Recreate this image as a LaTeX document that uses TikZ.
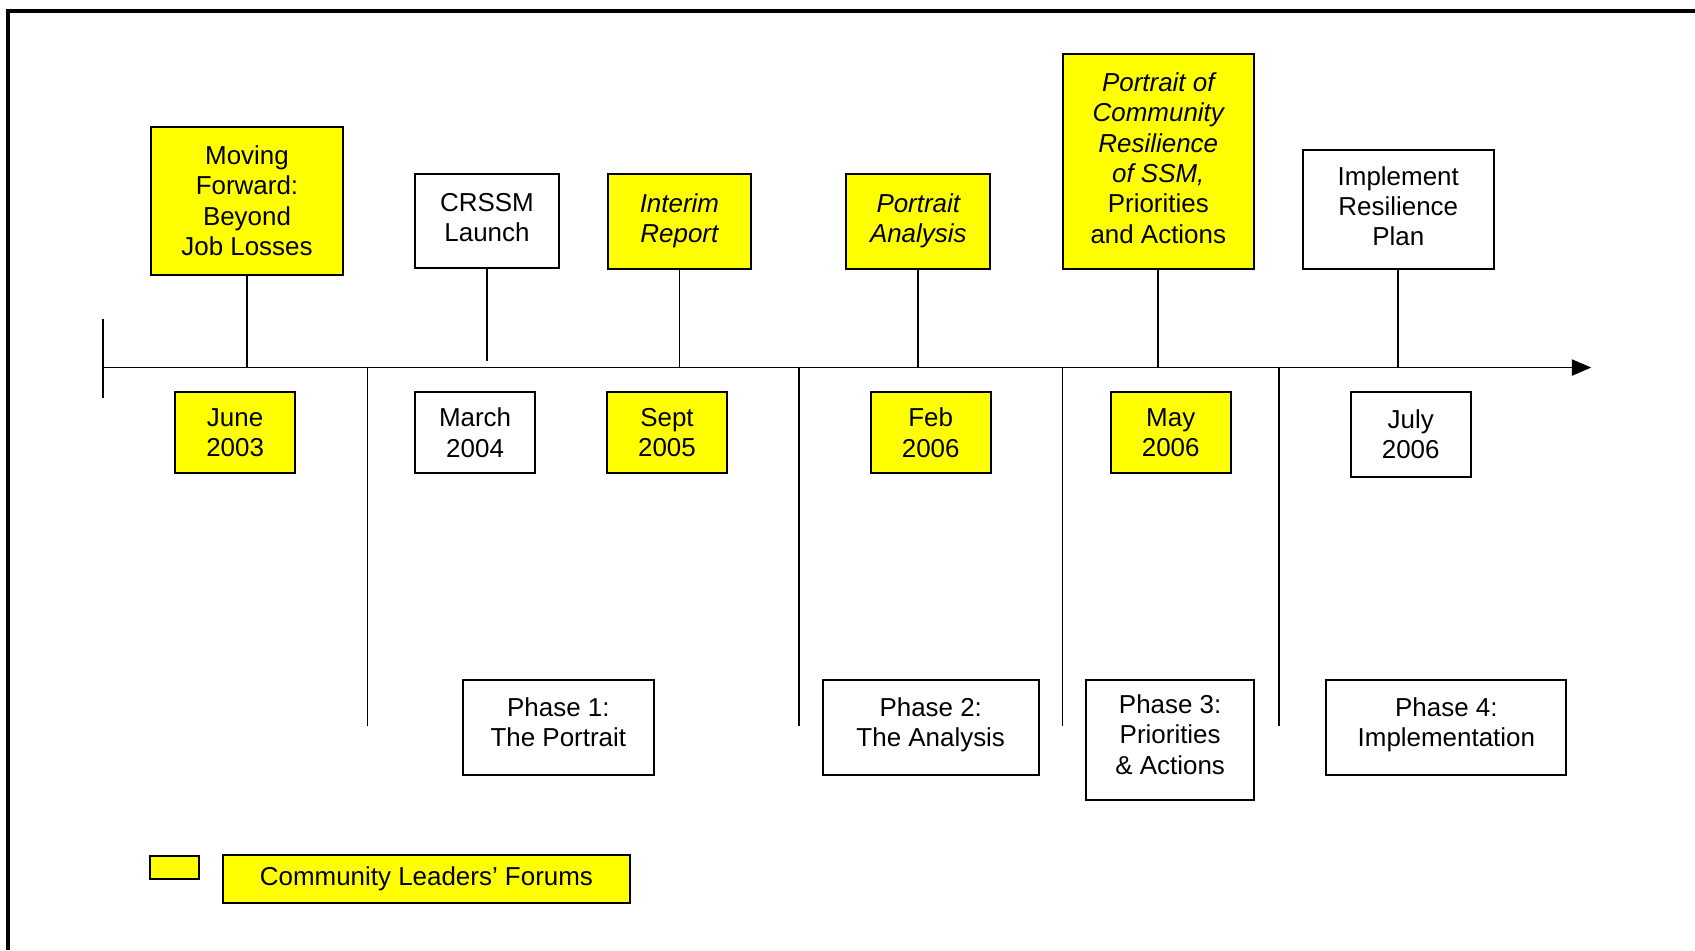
\documentclass[tikz,border=0pt]{standalone}
\usepackage{fontspec}
\setmainfont{Liberation Sans}
\usetikzlibrary{arrows.meta}
\definecolor{clfyellow}{RGB}{255,255,0}
\tikzset{every node/.style={font=\fontsize{12}{14}\selectfont, align=center},
    event/.style={draw, line width=0.9pt, inner sep=2pt},
    clf/.style={event, fill=clfyellow},
    above line/.style={anchor=south, text depth=3.5pt},
    datebox/.style={anchor=north, minimum width=55.5pt, minimum height=37.5pt},
    phase/.style={event, anchor=north, minimum height=44pt, text depth=5pt},
    stem/.style={line width=0.8pt},
    }

\begin{document}
\begin{tikzpicture}[x=0.5pt, y=-0.5pt]
\useasboundingbox (0,0) rectangle (1568,879);
\draw[line width=1.8pt] (7,879) -- (7,10.5) -- (1568,10.5);
% time line
\coordinate (start) at (95,340);
\coordinate (end) at (1472,340);
\draw[stem, -{Triangle[length=9pt, width=7.5pt]}] (start) -- (end);
\draw[stem] (95,295) -- (95,368);
% events above the line
\node[clf, anchor=south, minimum width=88.5pt, minimum height=68.5pt] (mf) at (228.5,255)
    {Moving\\Forward:\\Beyond\\Job Losses};
\node[event, above line, minimum width=66.5pt, minimum height=43.5pt] (launch) at (450.5,249)
    {CRSSM\\ Launch};
\node[clf, above line, minimum width=66.5pt, minimum height=44pt] (interim) at (628.5,250)
    {\itshape Interim\\\itshape Report};
\node[clf, above line, minimum width=66.5pt, minimum height=44pt] (analysis) at (849.5,250)
    {\itshape Portrait\\\itshape Analysis};
\node[clf, above line, minimum width=88.5pt, minimum height=99.5pt] (portrait) at (1071.5,250)
    {\itshape Portrait of\\\itshape Community\\\itshape Resilience\\\itshape of SSM,\\Priorities\\and Actions};
\node[event, above line, minimum width=88.5pt, minimum height=55pt] (implement) at (1293.5,250)
    {Implement\\Resilience\\Plan};
\foreach \n in {mf,interim,analysis,portrait,implement}
    \draw[stem] (\n.south) -- (\n.south |- start);
\draw[stem] (launch.south) -- ++(0,85);
% dates below the line
\node[clf, datebox] (d03) at (217.5,362) {June\\2003};
\node[event, datebox] (d04) at (439.5,362) {March\\2004};
\node[clf, datebox] (d05) at (617,362) {Sept\\2005};
\node[clf, datebox] (d06a) at (861,362) {Feb\\2006};
\node[clf, datebox] (d06b) at (1083,362) {May\\2006};
\node[event, datebox, minimum height=39pt] (d06c) at (1305,362) {July\\2006};
% phases
\foreach \x in {340,739,983,1183}
    \draw[stem] (\x,340) -- (\x,672);
\node[phase, minimum width=88.5pt] (ph1) at (516.5,628) {Phase 1:\\The Portrait};
\node[phase, minimum width=100pt] (ph2) at (861,628) {Phase 2:\\The Analysis};
\node[phase, minimum width=77.5pt, minimum height=55.5pt] (ph3) at (1082.5,628) {Phase 3:\\Priorities\\\& Actions};
\node[phase, minimum width=111pt] (ph4) at (1338,628) {Phase 4:\\Implementation};
% key
\node[clf, minimum width=22.5pt, minimum height=10.5pt, inner sep=0pt] (key) at (161.5,802.5) {};
\node[clf, minimum width=188.5pt, minimum height=22pt] (keylabel) at (394.5,813) {Community Leaders’ Forums};
\end{tikzpicture}
\end{document}
